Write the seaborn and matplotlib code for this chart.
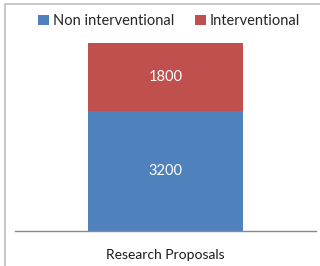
import matplotlib
matplotlib.use("Agg")
import matplotlib.pyplot as plt
import seaborn as sns
import pandas as pd
from matplotlib.patches import Rectangle, Patch

categories = ["Research Proposals"]
non_interventional = [3200]
interventional = [1800]
series_names = ["Non interventional", "Interventional"]
colors = ["#4F81BD", "#C0504D"]

sns.set_theme(style="white")
plt.rcParams['font.family'] = ['Lato', 'DejaVu Sans']

W, H = 320, 266
fig = plt.figure(figsize=(W / 100, H / 100), dpi=100)

# outer chart frame
fig.patches.append(Rectangle((5 / W, -0.1), 1.2, (H - 4) / H + 0.1,
                             transform=fig.transFigure, fill=False,
                             edgecolor="#BFBFBF", linewidth=1.2))

ax = fig.add_axes([15 / W, (H - 231) / H, 301 / W, (231 - 33) / H])

totals = [a + b for a, b in zip(non_interventional, interventional)]
df_tot = pd.DataFrame({"cat": categories, "val": totals})
df_non = pd.DataFrame({"cat": categories, "val": non_interventional})

sns.barplot(data=df_tot, x="cat", y="val", color=colors[1], width=0.515,
            saturation=1, ax=ax, edgecolor="none")
sns.barplot(data=df_non, x="cat", y="val", color=colors[0], width=0.515,
            saturation=1, ax=ax, edgecolor="none")

ax.set_xlim(-0.5, 0.5)
ax.set_ylim(0, 5266)
ax.set_yticks([])
ax.set_xlabel("")
ax.set_ylabel("")
for s in ["top", "right", "left"]:
    ax.spines[s].set_visible(False)
ax.spines["bottom"].set_color("#888888")
ax.spines["bottom"].set_linewidth(1.0)
ax.tick_params(axis="x", length=0, pad=13, labelsize=10, labelcolor="#1a1a1a")

for i, (n, v) in enumerate(zip(non_interventional, interventional)):
    ax.text(i, n / 2, f"{n}", ha="center", va="center", color="white", fontsize=10.5)
    ax.text(i, n + v / 2, f"{v}", ha="center", va="center", color="white", fontsize=10.5)

handles = [Patch(facecolor=c, edgecolor="none") for c in colors]
fig.legend(handles, series_names, loc="center", bbox_to_anchor=(169 / W, (H - 21) / H),
           ncol=2, frameon=False, fontsize=10.5, handlelength=0.75, handleheight=0.75,
           handletextpad=0.3, columnspacing=1.4, borderaxespad=0)

fig.savefig("out.png", dpi=100)
